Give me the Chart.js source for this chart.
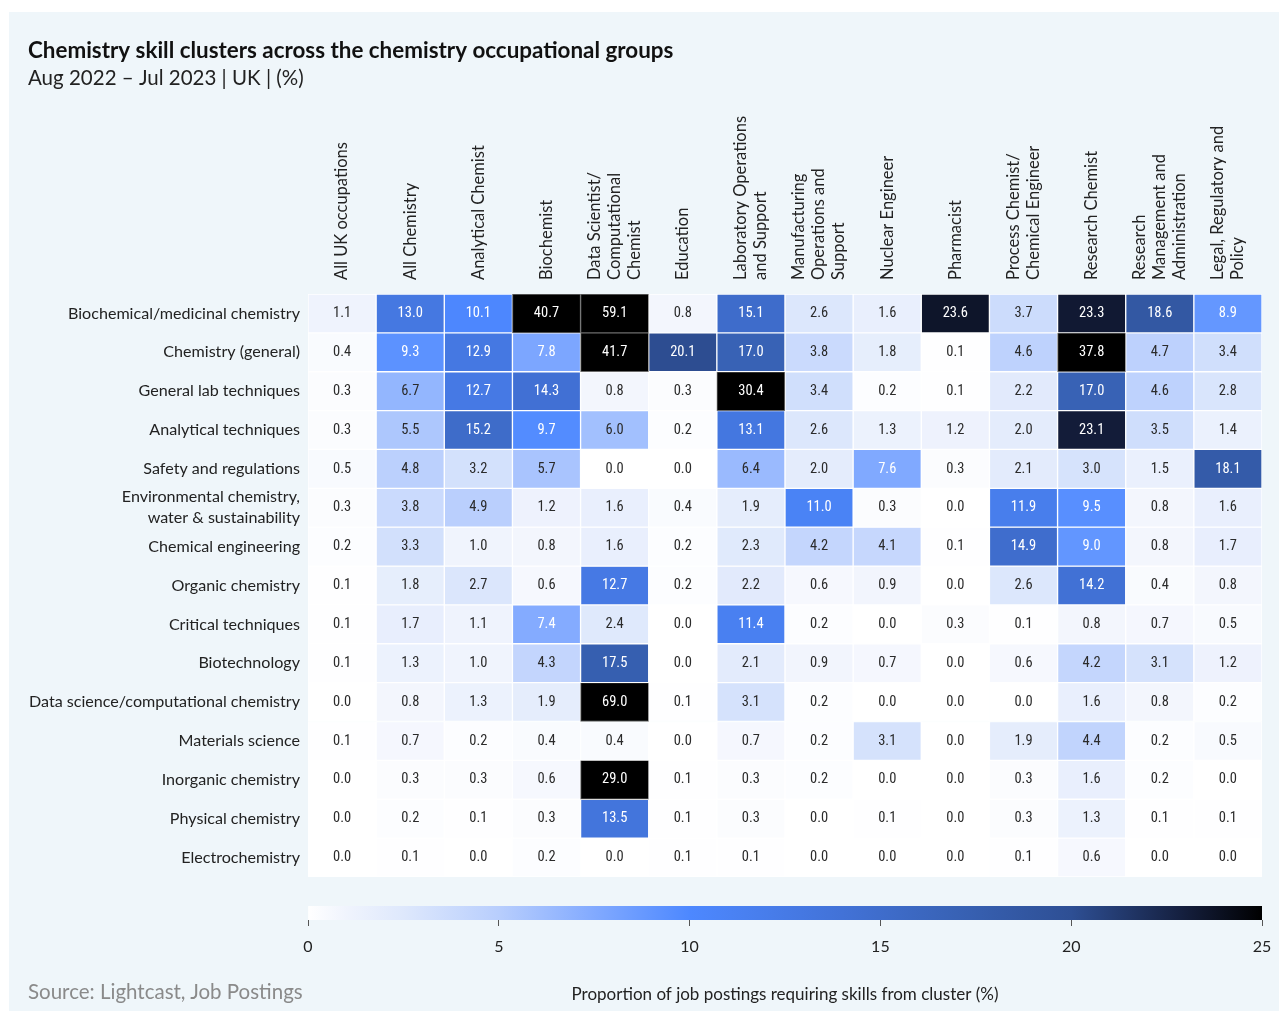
<!DOCTYPE html>
<html lang="en">
<head>
<meta charset="UTF-8">
<title>Chemistry skill clusters across the chemistry occupational groups</title>
<script src="https://cdn.jsdelivr.net/npm/chart.js"></script>
<style>
  body { margin: 0; width: 1279px; height: 1011px; position: relative; overflow: hidden; background: #fff; font-family: Lato, sans-serif; }
  /* light panel behind the whole figure */
  #panel { position: absolute; left: 9px; top: 12px; right: 0; bottom: 0; background: #eff6fa; }
  #heat { position: absolute; left: 0; top: 0; }
  #scale { position: absolute; left: 0; top: 890px; }
  #source { position: absolute; left: 28px; top: 979px; color: #8a8a8a; font-size: 20.5px; }
</style>
</head>
<body>
<div id="panel"></div>
<canvas id="heat" width="1279" height="890"></canvas>
<canvas id="scale" width="1279" height="121"></canvas>
<div id="source">Source: Lightcast, Job Postings</div>

<script>
// occupational groups (columns), split into the lines used on the chart
const occupations = [
  ['All UK occupations'],
  ['All Chemistry'],
  ['Analytical Chemist'],
  ['Biochemist'],
  ['Data Scientist/', 'Computational', 'Chemist'],
  ['Education'],
  ['Laboratory Operations', 'and Support'],
  ['Manufacturing', 'Operations and', 'Support'],
  ['Nuclear Engineer'],
  ['Pharmacist'],
  ['Process Chemist/', 'Chemical Engineer'],
  ['Research Chemist'],
  ['Research', 'Management and', 'Administration'],
  ['Legal, Regulatory and', 'Policy']
];

// skill clusters (rows)
const clusters = [
  'Biochemical/medicinal chemistry',
  'Chemistry (general)',
  'General lab techniques',
  'Analytical techniques',
  'Safety and regulations',
  ['Environmental chemistry,', 'water & sustainability'],
  'Chemical engineering',
  'Organic chemistry',
  'Critical techniques',
  'Biotechnology',
  'Data science/computational chemistry',
  'Materials science',
  'Inorganic chemistry',
  'Physical chemistry',
  'Electrochemistry'
];

// % of postings per cluster, one array per row, in column order
const biochemical   = [1.1, 13.0, 10.1, 40.7, 59.1, 0.8, 15.1, 2.6, 1.6, 23.6, 3.7, 23.3, 18.6, 8.9];
const chemGeneral   = [0.4, 9.3, 12.9, 7.8, 41.7, 20.1, 17.0, 3.8, 1.8, 0.1, 4.6, 37.8, 4.7, 3.4];
const labTechniques = [0.3, 6.7, 12.7, 14.3, 0.8, 0.3, 30.4, 3.4, 0.2, 0.1, 2.2, 17.0, 4.6, 2.8];
const analytical    = [0.3, 5.5, 15.2, 9.7, 6.0, 0.2, 13.1, 2.6, 1.3, 1.2, 2.0, 23.1, 3.5, 1.4];
const safety        = [0.5, 4.8, 3.2, 5.7, 0.0, 0.0, 6.4, 2.0, 7.6, 0.3, 2.1, 3.0, 1.5, 18.1];
const environmental = [0.3, 3.8, 4.9, 1.2, 1.6, 0.4, 1.9, 11.0, 0.3, 0.0, 11.9, 9.5, 0.8, 1.6];
const chemEng       = [0.2, 3.3, 1.0, 0.8, 1.6, 0.2, 2.3, 4.2, 4.1, 0.1, 14.9, 9.0, 0.8, 1.7];
const organic       = [0.1, 1.8, 2.7, 0.6, 12.7, 0.2, 2.2, 0.6, 0.9, 0.0, 2.6, 14.2, 0.4, 0.8];
const critical      = [0.1, 1.7, 1.1, 7.4, 2.4, 0.0, 11.4, 0.2, 0.0, 0.3, 0.1, 0.8, 0.7, 0.5];
const biotech       = [0.1, 1.3, 1.0, 4.3, 17.5, 0.0, 2.1, 0.9, 0.7, 0.0, 0.6, 4.2, 3.1, 1.2];
const dataScience   = [0.0, 0.8, 1.3, 1.9, 69.0, 0.1, 3.1, 0.2, 0.0, 0.0, 0.0, 1.6, 0.8, 0.2];
const materials     = [0.1, 0.7, 0.2, 0.4, 0.4, 0.0, 0.7, 0.2, 3.1, 0.0, 1.9, 4.4, 0.2, 0.5];
const inorganic     = [0.0, 0.3, 0.3, 0.6, 29.0, 0.1, 0.3, 0.2, 0.0, 0.0, 0.3, 1.6, 0.2, 0.0];
const physical      = [0.0, 0.2, 0.1, 0.3, 13.5, 0.1, 0.3, 0.0, 0.1, 0.0, 0.3, 1.3, 0.1, 0.1];
const electro       = [0.0, 0.1, 0.0, 0.2, 0.0, 0.1, 0.1, 0.0, 0.0, 0.0, 0.1, 0.6, 0.0, 0.0];

const shares = [biochemical, chemGeneral, labTechniques, analytical, safety, environmental,
  chemEng, organic, critical, biotech, dataScience, materials, inorganic, physical, electro];

// colour bar ticks
const scaleTicks = [0, 5, 10, 15, 20, 25];

// colour scale: white -> bright blue -> navy -> black, capped at 25
const colorStops = [
  [0, [255, 255, 255]],
  [1, [240, 244, 253]],
  [2.5, [222, 232, 252]],
  [5, [184, 206, 253]],
  [7.5, [130, 170, 255]],
  [10, [77, 136, 255]],
  [14, [66, 114, 215]],
  [17, [56, 98, 181]],
  [20, [46, 79, 148]],
  [23, [20, 30, 60]],
  [25, [0, 0, 0]]
];

function colorFor(v) {
  if (v >= colorStops[colorStops.length - 1][0]) return 'rgb(0,0,0)';
  for (let i = 1; i < colorStops.length; i++) {
    const [v1, c1] = colorStops[i];
    if (v <= v1) {
      const [v0, c0] = colorStops[i - 1];
      const t = (v - v0) / (v1 - v0);
      const c = c0.map((a, k) => Math.round(a + (c1[k] - a) * t));
      return `rgb(${c.join(',')})`;
    }
  }
}

const FONT = 'Lato';
const NUM_FONT = '"Liberation Sans Narrow", "Roboto Condensed", "Arial Narrow", sans-serif';

// rotated occupation names above the columns
const columnLabels = {
  id: 'columnLabels',
  afterDraw(chart) {
    const {ctx, chartArea, scales: {x}} = chart;
    ctx.save();
    ctx.font = `16.5px ${FONT}`;
    ctx.fillStyle = '#222';
    ctx.textAlign = 'left';
    ctx.textBaseline = 'middle';
    occupations.forEach((lines, i) => {
      const cx = x.getPixelForValue(i);
      lines.forEach((line, k) => {
        ctx.save();
        ctx.translate(cx + (k - (lines.length - 1) / 2) * 20, chartArea.top - 14);
        ctx.rotate(-Math.PI / 2);
        ctx.fillText(line, 0, 0);
        ctx.restore();
      });
    });
    ctx.restore();
  }
};

// value printed in each cell
const cellValues = {
  id: 'cellValues',
  afterDatasetsDraw(chart) {
    const ctx = chart.ctx;
    ctx.save();
    ctx.font = `14.5px ${NUM_FONT}`;
    ctx.textAlign = 'center';
    ctx.textBaseline = 'middle';
    shares.forEach((row, r) => {
      const meta = chart.getDatasetMeta(r);
      row.forEach((v, j) => {
        const bar = meta.data[j];
        ctx.fillStyle = v >= 7 ? '#ffffff' : '#2b2b2b';
        ctx.fillText(v.toFixed(1), bar.x, (bar.y + bar.base) / 2);
      });
    });
    ctx.restore();
  }
};

new Chart(document.getElementById('heat'), {
  type: 'bar',
  data: {
    labels: occupations.map(l => l.join(' ')),
    datasets: shares.map((row, r) => ({
      label: [].concat(clusters[r]).join(' '),
      data: row.map(() => 1),
      backgroundColor: row.map(colorFor),
      borderColor: row.map(v => v > 25 ? '#6b6b6b' : '#ffffff'),
      borderWidth: 1,
      borderSkipped: false,
      barPercentage: 1,
      categoryPercentage: 1,
      yAxisID: 'y'
    }))
  },
  options: {
    responsive: false,
    animation: false,
    layout: { padding: { left: 28, right: 17, top: 37, bottom: 13 } },
    plugins: {
      legend: { display: false },
      tooltip: { enabled: false },
      title: {
        display: true,
        text: 'Chemistry skill clusters across the chemistry occupational groups',
        align: 'start',
        color: '#111',
        font: { family: FONT, size: 22.4, weight: 'bold' },
        padding: { top: 0, bottom: 0 }
      },
      subtitle: {
        display: true,
        text: 'Aug 2022 \u2013 Jul 2023 | UK | (%)',
        align: 'start',
        color: '#222',
        font: { family: FONT, size: 20.5 },
        padding: { top: 2, bottom: 0 }
      }
    },
    scales: {
      x: {
        position: 'top',
        stacked: true,
        grid: { display: false },
        border: { display: false },
        ticks: { display: false },
        afterFit(s) { s.height = 203.5; s.paddingLeft = 0; s.paddingRight = 0; }
      },
      y: { type: 'linear', stacked: true, reverse: true, min: 0, max: shares.length, display: false },
      rows: {
        type: 'category',
        position: 'left',
        labels: clusters,
        offset: true,
        grid: { display: false, drawTicks: false },
        border: { display: false },
        ticks: { color: '#222', padding: 8, autoSkip: false, font: { family: FONT, size: 16.1, lineHeight: 1.3 } },
        afterFit(s) { s.width = 280; s.paddingTop = 0; s.paddingBottom = 0; }
      }
    }
  },
  plugins: [columnLabels, cellValues]
});

// colour bar
const scaleMax = scaleTicks[scaleTicks.length - 1];
new Chart(document.getElementById('scale'), {
  type: 'bar',
  data: {
    labels: ['scale'],
    datasets: [{
      data: [[scaleTicks[0], scaleMax]],
      backgroundColor(c) {
        const area = c.chart.chartArea;
        if (!area) return '#fff';
        const g = c.chart.ctx.createLinearGradient(area.left, 0, area.right, 0);
        colorStops.forEach(([v, rgb]) => g.addColorStop(v / scaleMax, `rgb(${rgb.join(',')})`));
        return g;
      },
      borderWidth: 0,
      barPercentage: 1,
      categoryPercentage: 1
    }]
  },
  options: {
    indexAxis: 'y',
    responsive: false,
    animation: false,
    layout: { padding: { left: 308, right: 17, top: 16, bottom: 0 } },
    plugins: { legend: { display: false }, tooltip: { enabled: false } },
    scales: {
      x: {
        type: 'linear',
        min: scaleTicks[0],
        max: scaleMax,
        afterBuildTicks(s) { s.ticks = scaleTicks.map(v => ({ value: v })); },
        ticks: { color: '#222', padding: 11, font: { family: FONT, size: 16 } },
        grid: { drawOnChartArea: false, drawTicks: true, tickLength: 6, color: '#555' },
        border: { display: false },
        title: {
          display: true,
          text: 'Proportion of job postings requiring skills from cluster (%)',
          color: '#222',
          font: { family: FONT, size: 17 },
          padding: { top: 0, bottom: 6 }
        },
        afterFit(s) { s.height = 91; s.paddingLeft = 0; s.paddingRight = 0; }
      },
      y: { display: false }
    }
  }
});
</script>
</body>
</html>
